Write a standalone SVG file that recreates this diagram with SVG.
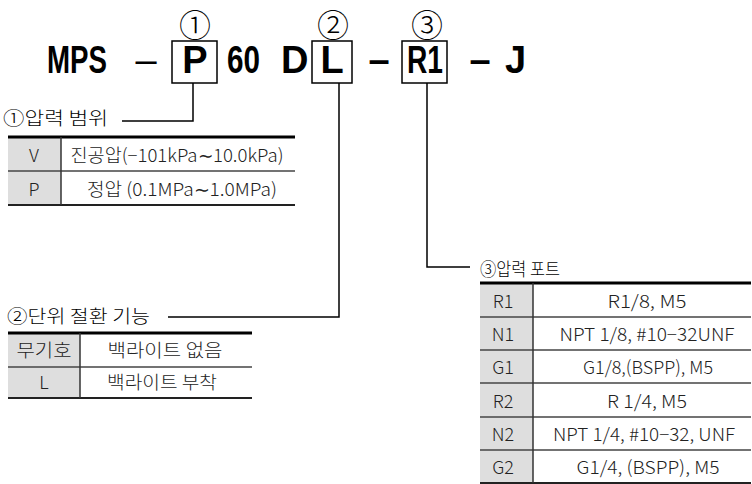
<svg xmlns="http://www.w3.org/2000/svg" width="752" height="484" viewBox="0 0 752 484">
<style>
.t{font-family:"Liberation Sans","Noto Sans CJK KR",sans-serif;font-weight:bold;font-size:38px;fill:#000}
.c{font-family:"Noto Sans CJK KR","DejaVu Sans",sans-serif;font-weight:300;font-size:32px;fill:#000;text-anchor:middle}
.lb{font-family:"Noto Sans CJK KR",sans-serif;font-weight:300;font-size:18px;fill:#000}
.k{font-family:"Noto Sans CJK KR",sans-serif;font-weight:300;font-size:18px;fill:#222;text-anchor:middle}
.box{fill:none;stroke:#000;stroke-width:1.5}
.gray{fill:#dedede}
.thick{stroke:#000;stroke-width:3}
.row{stroke:#444;stroke-width:1.5}
.bot{stroke:#222;stroke-width:2}
.vs{stroke:#333;stroke-width:1.5}
.conn{fill:none;stroke:#000;stroke-width:1.5}
</style>
<g id="title">
<text class="t" x="47" y="73" textLength="60" lengthAdjust="spacingAndGlyphs">MPS</text>
<text class="t" x="146" y="73" text-anchor="middle" style="font-weight:normal">–</text>
<rect class="box" x="172" y="41" width="45" height="42"/>
<text class="t" x="195" y="73" text-anchor="middle">P</text>
<text class="t" x="227" y="73" textLength="33" lengthAdjust="spacingAndGlyphs">60</text>
<text class="t" x="281" y="73">D</text>
<rect class="box" x="312" y="41" width="40" height="42"/>
<text class="t" x="332" y="73" text-anchor="middle">L</text>
<text class="t" x="379" y="73" text-anchor="middle">–</text>
<rect class="box" x="402" y="41" width="45" height="42"/>
<text class="t" x="425" y="73" text-anchor="middle" textLength="36" lengthAdjust="spacingAndGlyphs">R1</text>
<text class="t" x="480" y="73" text-anchor="middle">–</text>
<text class="t" x="505" y="73">J</text>
<text class="c" x="195" y="37">①</text>
<text class="c" x="333" y="37">②</text>
<text class="c" x="427" y="37">③</text>
</g>
<g id="connectors">
<path class="conn" d="M193 83V121H122"/>
<path class="conn" d="M339 83V317H168"/>
<path class="conn" d="M427 83V267H470"/>
</g>
<g id="table1">
<text class="lb" x="3" y="125" textLength="105" lengthAdjust="spacingAndGlyphs">①압력 범위</text>
<rect class="gray" x="8" y="137" width="53" height="68"/>
<line class="thick" x1="8" y1="137" x2="295" y2="137"/>
<line class="row" x1="8" y1="171" x2="295" y2="171"/>
<line class="bot" x1="8" y1="205" x2="295" y2="205"/>
<line class="vs" x1="61" y1="137" x2="61" y2="205"/>
<text class="k" x="34" y="162">V</text>
<text class="k" x="177" y="162" textLength="213" lengthAdjust="spacingAndGlyphs">진공압(−101kPa∼10.0kPa)</text>
<text class="k" x="34" y="196">P</text>
<text class="k" x="182" y="196" textLength="190" lengthAdjust="spacingAndGlyphs">정압 (0.1MPa∼1.0MPa)</text>
</g>
<g id="table2">
<text class="lb" x="7" y="323" textLength="143" lengthAdjust="spacingAndGlyphs">②단위 절환 기능</text>
<rect class="gray" x="8" y="333" width="72" height="65"/>
<line class="thick" x1="8" y1="333" x2="252" y2="333"/>
<line class="row" x1="8" y1="367" x2="252" y2="367"/>
<line class="bot" x1="8" y1="398" x2="252" y2="398"/>
<line class="vs" x1="80" y1="333" x2="80" y2="398"/>
<text class="k" x="44" y="357" textLength="55" lengthAdjust="spacingAndGlyphs">무기호</text>
<text class="k" x="165" y="357" textLength="115" lengthAdjust="spacingAndGlyphs">백라이트 없음</text>
<text class="k" x="44" y="389">L</text>
<text class="k" x="162" y="389" textLength="110" lengthAdjust="spacingAndGlyphs">백라이트 부착</text>
</g>
<g id="table3">
<text class="lb" x="480" y="276" textLength="80" lengthAdjust="spacingAndGlyphs">③압력 포트</text>
<rect class="gray" x="480" y="283" width="53" height="200"/>
<line class="thick" x1="480" y1="283" x2="751" y2="283"/>
<line class="row" x1="480" y1="317" x2="751" y2="317"/>
<line class="row" x1="480" y1="350" x2="751" y2="350"/>
<line class="row" x1="480" y1="383" x2="751" y2="383"/>
<line class="row" x1="480" y1="417" x2="751" y2="417"/>
<line class="row" x1="480" y1="450" x2="751" y2="450"/>
<line class="bot" x1="480" y1="483" x2="751" y2="483"/>
<line class="vs" x1="533" y1="283" x2="533" y2="483"/>
<text class="k" x="503" y="308">R1</text>
<text class="k" x="647" y="308" textLength="79" lengthAdjust="spacingAndGlyphs">R1/8, M5</text>
<text class="k" x="503" y="341">N1</text>
<text class="k" x="647" y="341" textLength="175" lengthAdjust="spacingAndGlyphs">NPT 1/8, #10−32UNF</text>
<text class="k" x="503" y="374">G1</text>
<text class="k" x="648" y="374" textLength="130" lengthAdjust="spacingAndGlyphs">G1/8,(BSPP), M5</text>
<text class="k" x="503" y="408">R2</text>
<text class="k" x="647" y="408" textLength="80" lengthAdjust="spacingAndGlyphs">R 1/4, M5</text>
<text class="k" x="503" y="441">N2</text>
<text class="k" x="644" y="441" textLength="182" lengthAdjust="spacingAndGlyphs">NPT 1/4, #10−32, UNF</text>
<text class="k" x="503" y="474">G2</text>
<text class="k" x="648" y="474" textLength="143" lengthAdjust="spacingAndGlyphs">G1/4, (BSPP), M5</text>
</g>
</svg>
